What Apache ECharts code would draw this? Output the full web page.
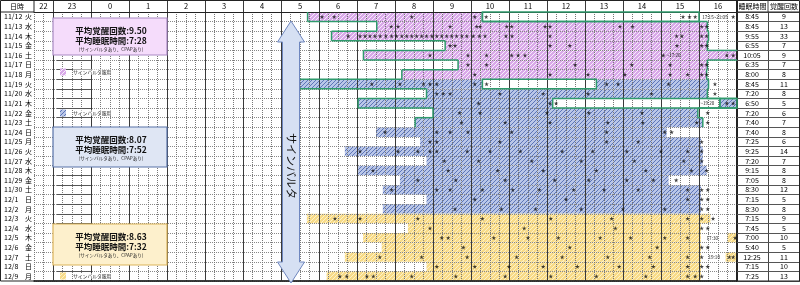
<!DOCTYPE html>
<html>
<head>
<meta charset="utf-8">
<script src="https://cdn.jsdelivr.net/npm/echarts@6/dist/echarts.min.js"></script>
<style>
  html, body { margin: 0; padding: 0; background: #fff; }
  #main { width: 800px; height: 285px; }
</style>
</head>
<body>
<div id="main"></div>
<script>
// 日付・曜日
var dates = ['11/12','11/13','11/14','11/15','11/16','11/17','11/18','11/19','11/20','11/21','11/22','11/23','11/24','11/25',
  '11/26','11/27','11/28','11/29','11/30','12/1','12/2','12/3','12/4','12/5','12/6','12/7','12/8','12/9']
var weekdays = ['火','水','木','金','土','日','月','火','水','木','金','土','日','月',
  '火','水','木','金','土','日','月','火','水','木','金','土','日','月']
// 右の表
var sleepTimes = ['8:45','8:45','9:55','6:55','10:05','6:35','8:00','8:45','7:20','6:50','7:20','7:40','7:40','7:25',
  '9:25','7:20','9:15','7:05','8:30','7:15','8:30','7:15','7:45','7:00','5:40','12:25','7:15','7:25']
var wakeCounts = ['9','13','33','7','9','7','8','11','8','5','6','7','8','6',
  '14','7','8','8','12','5','8','9','5','10','5','11','10','13']
// 時刻見出し (22時=-2 … 翌16時=16) と位置
var hourLabels = ['22','23','0','1','2','3','4','5','6','7','8','9','10','11','12','13','14','15','16']
var hourLabelPos = [-1.25, -0.5, 0.5, 1.5, 2.5, 3.5, 4.5, 5.5, 6.5, 7.5, 8.5, 9.5, 10.5, 11.5, 12.5, 13.5, 14.5, 15.5, 16.5]
var hourLines = [-1, 0, 1, 2, 3, 4, 5, 6, 7, 8, 9, 10, 11, 12, 13, 14, 15, 16]
// 0:紫 1:青 2:黄
var medGroup = [0,0,0,0,0,0,0, 1,1,1,1,1,1,1,1,1,1,1,1,1,1, 2,2,2,2,2,2,2]

// 睡眠区間 [行, 開始(時), 終了(時)]
var sleepSegments = [
  [0, 5.7, 10.3], [1, 7.52, 16.22], [2, 6.33, 16.25], [3, 9.32, 16.22], [4, 7.17, 17], [5, 9.66, 16.22],
  [6, 8.18, 16.2], [7, 5.2, 10.3], [7, 13.3, 16.25], [8, 8.83, 16.22], [9, 7.03, 12.15], [9, 16.55, 17],
  [10, 9.0, 15.97], [11, 8.53, 16.1], [12, 7.5, 15.15], [13, 8.66, 16.05], [14, 6.68, 16.1], [15, 8.83, 16.1],
  [16, 7.03, 16.2], [17, 8.13, 15.2], [18, 7.68, 16.05], [19, 8.83, 16.05], [20, 7.68, 16.05],
  [21, 5.68, 16.3], [22, 8.34, 16.05], [23, 7.16, 16.05], [23, 16.75, 17], [24, 7.65, 16.05],
  [25, 6.68, 16.05], [25, 16.7, 17], [26, 8.83, 16.05], [27, 6.2, 16.05]
]
// 緑枠 [行, 開始, 終了]
var greenBoxes = [[0, 10.3, 16.0], [7, 10.3, 13.3], [9, 12.15, 16.55], [9, 16.55, 17]]
var outlineRows = 12
// 時刻メモ [行, 位置, 文字]
var timeNotes = [[0, 16.42, '17:15~21:05'], [4, 15.33, '~17:20'], [9, 16.22, '~19:20'], [23, 16.35, '17:30'], [25, 16.4, '19:10']]

// 覚醒 (★) 行ごと
var stars = [
  [6.08, 6.4, 8.44, 10.1, 10.4, 15.58, 15.75, 15.9, 16.9],
  [7.9, 8.08, 9.45, 10.15, 10.24, 10.94, 11.07, 11.95, 12.08, 13.92, 14.25, 16.07, 16.2],
  [6.77, 7.08, 7.21, 7.34, 7.47, 7.61, 7.76, 7.91, 8.04, 8.18, 8.31, 8.44, 8.57, 8.7, 8.83, 8.97, 9.1,
    9.23, 9.36, 9.49, 9.62, 9.76, 9.89, 10.06, 10.22, 10.37, 10.92, 11.08, 12.08, 15.41, 15.55, 16.07, 16.2],
  [9.45, 9.58, 12.08, 12.6, 15.42, 16.07, 16.2],
  [8.92, 9.92, 10.41, 11.07, 11.24, 11.42, 15.06, 16.73, 16.9],
  [9.92, 10.41, 12.74, 14.23, 15.24, 16.07, 16.2],
  [10.1, 12.08, 13.08, 14.05, 15.24, 15.7, 16.07, 16.2],
  [7.39, 8.13, 8.75, 8.92, 9.1, 10.1, 10.41, 13.57, 13.87, 15.2, 16.42],
  [9.1, 9.27, 9.45, 10.76, 11.9, 13.08, 14.75, 16.42],
  [10.2, 12.08, 12.24, 16.73, 16.9],
  [9.7, 10.24, 12.0, 13.1, 14.5, 16.23],
  [9.75, 10.9, 12.08, 13.6, 14.52, 15.94, 16.23],
  [7.74, 9.1, 9.45, 9.92, 11.07, 13.57, 15.1, 15.28],
  [8.92, 9.1, 10.76, 13.57, 14.4, 16.07],
  [7.08, 8.08, 8.6, 8.92, 9.1, 9.9, 10.5, 11.3, 12.4, 13.2, 14.1, 15.0, 15.7, 16.07],
  [9.3, 10.2, 11.6, 12.9, 14.3, 15.6, 16.07],
  [7.42, 9.4, 10.7, 11.9, 13.3, 14.6, 15.8, 16.2],
  [8.6, 9.6, 10.9, 12.2, 13.1, 14.1, 14.8, 15.4],
  [7.91, 9.1, 9.45, 10.3, 11.1, 11.8, 12.7, 13.5, 14.4, 15.7, 16.07, 16.23],
  [10.1, 12.5, 15.7, 16.07, 16.23],
  [9.58, 10.8, 11.7, 12.9, 14.0, 15.1, 16.07, 16.23],
  [6.42, 7.08, 8.6, 10.3, 12.1, 13.7, 15.7, 16.07, 16.37],
  [8.92, 11.4, 13.8, 16.07, 16.23],
  [9.23, 9.4, 10.6, 11.5, 12.3, 13.4, 14.2, 15.1, 15.7, 16.95],
  [9.8, 12.6, 14.9, 16.07, 16.23],
  [7.6, 8.7, 9.9, 11.2, 12.4, 13.6, 14.7, 15.7, 16.07, 16.8, 16.9],
  [9.1, 10.1, 11.0, 11.9, 12.8, 13.9, 14.8, 15.7, 16.07, 16.23],
  [6.55, 6.73, 7.26, 7.43, 8.44, 9.6, 10.9, 12.1, 13.3, 14.6, 15.7, 15.9, 16.07]
]
var summaries = [
  ['平均覚醒回数:9.50', '平均睡眠時間:7:28'],
  ['平均覚醒回数:8.07', '平均睡眠時間:7:52'],
  ['平均覚醒回数:8.63', '平均睡眠時間:7:32']
]

var FONT = '"Noto Sans CJK JP", "Noto Sans", sans-serif'
var GREEN = '#2f9a6c'
var STAR = 'path://M50,0 L61,35 L98,35 L68,57 L79,91 L50,70 L21,91 L32,57 L2,35 L39,35 Z'
var HEADER_H = 12

function hatch(bg, fg) {
  var c = document.createElement('canvas')
  c.width = 4; c.height = 4
  var g = c.getContext('2d')
  g.fillStyle = bg; g.fillRect(0, 0, 4, 4)
  g.fillStyle = fg
  for (var i = 0; i < 4; i++) g.fillRect(i, 3 - i, 1, 1)
  return { image: c, repeat: 'repeat' }
}
var fills = [hatch('#d9a9e9', '#f8eefb'), hatch('#b9c6e8', '#5d76b8'), hatch('#f8db88', '#fdf1c8')]

function rowRect(api, row, x0, x1) {
  var p0 = api.coord([x0, row]), p1 = api.coord([x1, row])
  var h = api.size([0, 1])[1]
  return { x: p0[0], y: p0[1] - h / 2, width: p1[0] - p0[0], height: h }
}
function seg(x1, y1, x2, y2) {
  return { type: 'line', shape: { x1: x1, y1: y1, x2: x2, y2: y2 }, style: { stroke: GREEN, lineWidth: 1.5 } }
}

// 外枠線 (行ごとの左端・右端)
var outlineData = []
for (var r = 0; r < outlineRows; r++) {
  var s = sleepSegments.filter(function (d) { return d[0] === r })
  outlineData.push([r, Math.min.apply(null, s.map(function (d) { return d[1] })), Math.max.apply(null, s.map(function (d) { return d[2] }))])
}

var starData = []
stars.forEach(function (list, row) {
  list.forEach(function (h) { starData.push([h, row]) })
})

var chart = echarts.init(document.getElementById('main'))

var labelBase = { fontFamily: FONT, color: '#000', fontSize: 7 }

function infoBox(y, h, fill, stroke, lines) {
  return {
    type: 'group', z: 40, children: [
      { type: 'rect', z: 40, shape: { x: 53, y: y, width: 114, height: h }, style: { fill: fill, stroke: stroke, lineWidth: 1.2 } },
      { type: 'text', z: 41, x: 111, y: y + 13, style: { text: lines[0], font: 'bold 8.5px ' + FONT, fill: '#111', align: 'center', verticalAlign: 'middle' } },
      { type: 'text', z: 41, x: 111, y: y + 23, style: { text: lines[1], font: 'bold 8.5px ' + FONT, fill: '#111', align: 'center', verticalAlign: 'middle' } },
      { type: 'text', z: 41, x: 111, y: y + 31.5, style: { text: '(サインバルタあり、CPAPあり)', font: '4.6px ' + FONT, fill: '#222', align: 'center', verticalAlign: 'middle' } }
    ]
  }
}
function legendItem(y, fill) {
  return {
    type: 'group', z: 40, children: [
      { type: 'rect', z: 40, shape: { x: 60, y: y - 3.5, width: 6, height: 7 }, style: { fill: fill } },
      { type: 'text', z: 41, x: 73, y: y, style: { text: 'サインバルタ服用', font: '4.8px ' + FONT, fill: '#222', verticalAlign: 'middle', backgroundColor: '#fff' } }
    ]
  }
}

var option = {
  animation: false,
  backgroundColor: '#fff',
  grid: { left: 34, right: 63, top: HEADER_H, bottom: 4 },
  xAxis: [
    {
      type: 'value', min: -1.5, max: 17, interval: 0.25, position: 'bottom', z: 3,
      axisLine: { show: true, lineStyle: { color: '#222', width: 1.5 } },
      axisTick: { show: false }, axisLabel: { show: false },
      splitLine: { show: true, lineStyle: { color: '#777', type: 'dotted', width: 1 } }
    },
    {
      type: 'value', min: -1.5, max: 17, position: 'top', z: 4,
      axisLine: { show: true, lineStyle: { color: '#222', width: 1 } },
      axisTick: { show: false }, axisLabel: { show: false }, splitLine: { show: false }
    }
  ],
  yAxis: [
    {
      type: 'category', data: dates, inverse: true, position: 'left', z: 3,
      axisLine: { show: true, lineStyle: { color: '#222' } },
      axisTick: { show: true, length: 34, interval: 0, lineStyle: { color: '#555' } },
      axisLabel: Object.assign({ align: 'left', margin: 30, interval: 0 }, labelBase),
      splitLine: { show: true, interval: 0, lineStyle: { color: '#888', type: 'dotted' } }
    },
    {
      type: 'category', data: weekdays, inverse: true, position: 'left', offset: 11,
      axisLine: { show: true, lineStyle: { color: '#444' } },
      axisTick: { show: false }, splitLine: { show: false },
      axisLabel: Object.assign({ inside: true, align: 'center', margin: 5.5, interval: 0 }, labelBase)
    },
    {
      type: 'category', data: sleepTimes, inverse: true, position: 'right', z: 3,
      axisLine: { show: true, lineStyle: { color: '#222', width: 2 } },
      axisTick: { show: true, length: 63, interval: 0, lineStyle: { color: '#555' } },
      splitLine: { show: false },
      axisLabel: Object.assign({ align: 'center', margin: 15, interval: 0 }, labelBase)
    },
    {
      type: 'category', data: wakeCounts, inverse: true, position: 'right', offset: 31,
      axisLine: { show: true, lineStyle: { color: '#444' } },
      axisTick: { show: false }, splitLine: { show: false },
      axisLabel: Object.assign({ align: 'center', margin: 16, interval: 0 }, labelBase)
    }
  ],
  series: [
    {
      // 睡眠区間
      type: 'custom', z: 2, silent: true,
      data: sleepSegments.map(function (d) { return [d[1], d[2], d[0]] }),
      encode: { x: [0, 1], y: 2 },
      renderItem: function (params, api) {
        var row = api.value(2)
        return { type: 'rect', shape: rowRect(api, row, api.value(0), api.value(1)), style: { fill: fills[medGroup[row]] } }
      }
    },
    {
      // 時刻の区切り線 (見出し行まで)
      type: 'custom', z: 4, silent: true,
      data: hourLines.map(function (h) { return [h, 0] }),
      encode: { x: 0, y: 1 },
      renderItem: function (params, api) {
        var cs = params.coordSys
        var x = Math.round(api.coord([api.value(0), 0])[0]) + 0.5
        return { type: 'line', shape: { x1: x, y1: cs.y - HEADER_H, x2: x, y2: cs.y + cs.height }, style: { stroke: '#3a3a3a', lineWidth: 1 } }
      }
    },
    {
      // 時刻見出し
      type: 'custom', z: 4, silent: true,
      data: hourLabelPos.map(function (h) { return [h, 0] }),
      encode: { x: 0, y: 1 },
      renderItem: function (params, api) {
        var cs = params.coordSys
        var x = api.coord([api.value(0), 0])[0]
        return { type: 'text', x: x, y: cs.y - HEADER_H / 2 + 0.5, style: { text: hourLabels[params.dataIndex], font: '7.5px ' + FONT, fill: '#000', align: 'center', verticalAlign: 'middle' } }
      }
    },
    {
      // 緑の外枠
      type: 'custom', z: 5, silent: true,
      data: outlineData.map(function (d) { return [d[1], d[2], d[0]] }),
      encode: { x: [0, 1], y: 2 },
      renderItem: function (params, api) {
        var i = params.dataIndex
        var cur = outlineData[i], prev = i > 0 ? outlineData[i - 1] : null
        var b = rowRect(api, cur[0], cur[1], cur[2])
        var top = b.y, bot = b.y + b.height, xL = b.x, xR = b.x + b.width
        var kids = [seg(xL, top, xL, bot)]
        if (cur[2] < 17) kids.push(seg(xR, top, xR, bot))
        if (prev) {
          var pL = api.coord([prev[1], cur[0]])[0], pR = api.coord([prev[2], cur[0]])[0]
          kids.push(seg(pL, top, xL, top))
          kids.push(seg(pR, top, xR, top))
        }
        return { type: 'group', children: kids }
      }
    },
    {
      // 緑枠
      type: 'custom', z: 5, silent: true,
      data: greenBoxes.map(function (d) { return [d[1], d[2], d[0]] }),
      encode: { x: [0, 1], y: 2 },
      renderItem: function (params, api) {
        return { type: 'rect', shape: rowRect(api, api.value(2), api.value(0), api.value(1)), style: { fill: null, stroke: GREEN, lineWidth: 1.5 } }
      }
    },
    {
      // 時刻メモ
      type: 'custom', z: 6, silent: true,
      data: timeNotes.map(function (d) { return [d[1], d[0]] }),
      encode: { x: 0, y: 1 },
      renderItem: function (params, api) {
        var p = api.coord([api.value(0), api.value(1)])
        return { type: 'text', x: p[0], y: p[1], style: { text: timeNotes[params.dataIndex][2], font: '4.6px ' + FONT, fill: '#222', align: 'center', verticalAlign: 'middle' } }
      }
    },
    {
      // 覚醒
      type: 'scatter', z: 7, silent: true,
      symbol: STAR, symbolSize: 4.5,
      itemStyle: { color: '#111' },
      data: starData
    }
  ],
  graphic: [
    { type: 'rect', z: 30, shape: { x: 0.5, y: 0.5, width: 799, height: 280.5 }, style: { fill: null, stroke: '#222', lineWidth: 1 } },
    { type: 'line', z: 30, shape: { x1: 0, y1: 12, x2: 34, y2: 12 }, style: { stroke: '#222' } },
    { type: 'line', z: 30, shape: { x1: 34, y1: 0, x2: 34, y2: 12 }, style: { stroke: '#222' } },
    { type: 'line', z: 30, shape: { x1: 737, y1: 12, x2: 800, y2: 12 }, style: { stroke: '#222' } },
    { type: 'line', z: 30, shape: { x1: 737, y1: 0, x2: 737, y2: 12 }, style: { stroke: '#222', lineWidth: 2 } },
    { type: 'line', z: 30, shape: { x1: 768, y1: 0, x2: 768, y2: 12 }, style: { stroke: '#444' } },
    { type: 'text', z: 30, x: 17, y: 6.5, style: { text: '日時', font: '7px ' + FONT, fill: '#000', align: 'center', verticalAlign: 'middle' } },
    { type: 'text', z: 30, x: 752.5, y: 6.5, style: { text: '睡眠時間', font: '7px ' + FONT, fill: '#000', align: 'center', verticalAlign: 'middle' } },
    { type: 'text', z: 30, x: 784, y: 6.5, style: { text: '覚醒回数', font: '7px ' + FONT, fill: '#000', align: 'center', verticalAlign: 'middle' } },
    infoBox(18, 37, '#f5dcfb', '#a98ac4', summaries[0]),
    infoBox(127, 40, '#dfe6f4', '#5872a8', summaries[1]),
    infoBox(224, 41, '#fdf0cc', '#dcb45a', summaries[2]),
    legendItem(72, fills[0]),
    legendItem(113, fills[1]),
    legendItem(276, fills[2]),
    {
      type: 'polygon', z: 40,
      shape: { points: [[291, 21], [304.5, 42], [299.5, 42], [299.5, 262], [304.5, 262], [291, 283], [277.5, 262], [282.5, 262], [282.5, 42], [277.5, 42]] },
      style: { fill: '#d6e0f3', stroke: '#6f87bf', lineWidth: 1 }
    },
    {
      type: 'text', z: 41, x: 291, y: 166, rotation: -Math.PI / 2,
      style: { text: 'サインバルタ', font: '11px ' + FONT, fill: '#111', align: 'center', verticalAlign: 'middle' }
    }
  ]
}
chart.setOption(option)
</script>
</body>
</html>
